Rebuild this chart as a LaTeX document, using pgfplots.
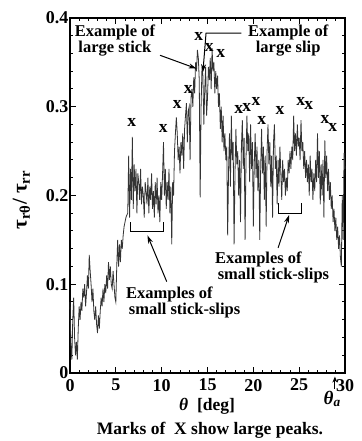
\documentclass[border=0pt]{standalone}
\usepackage{pgfplots}
\pgfplotsset{compat=1.18}
\usepackage{pgfplotstable}
\usepackage{fontspec}
\setmainfont{Liberation Serif}
\usetikzlibrary{arrows.meta}

\pgfplotstableread{
t v
0.0 0.080
0.1 0.030
0.2 0.015
0.3 0.060
0.4 0.085
0.5 0.040
0.6 0.020
0.7 0.035
0.8 0.015
0.9 0.050
1.0 0.075
1.1 0.060
1.2 0.080
1.3 0.070
1.4 0.095
1.5 0.085
1.6 0.100
1.7 0.075
1.8 0.090
1.9 0.110
2.0 0.095
2.1 0.133
2.2 0.115
2.3 0.100
2.4 0.080
2.5 0.095
2.6 0.070
2.7 0.060
2.8 0.075
2.9 0.055
3.0 0.045
3.1 0.065
3.2 0.050
3.3 0.070
3.4 0.085
3.5 0.075
3.6 0.095
3.7 0.080
3.8 0.100
3.9 0.090
4.0 0.110
4.1 0.095
4.2 0.125
4.3 0.105
4.4 0.120
4.5 0.100
4.6 0.095
4.7 0.115
4.8 0.100
4.9 0.085
5.0 0.080
5.1 0.120
5.2 0.150
5.3 0.120
5.4 0.145
5.5 0.125
5.6 0.150
5.7 0.140
5.8 0.155
5.9 0.165
6.0 0.170
6.1 0.175
6.2 0.178
6.3 0.180
6.4 0.245
6.5 0.175
6.6 0.230
6.7 0.195
6.8 0.266
6.9 0.185
7.0 0.235
7.1 0.205
7.2 0.230
7.3 0.180
7.4 0.225
7.5 0.215
7.6 0.195
7.7 0.230
7.8 0.190
7.9 0.210
8.0 0.200
8.1 0.175
8.2 0.215
8.3 0.205
8.4 0.190
8.5 0.220
8.6 0.180
8.7 0.210
8.8 0.195
8.9 0.225
9.0 0.185
9.1 0.205
9.2 0.175
9.3 0.215
9.4 0.190
9.5 0.220
9.6 0.180
9.7 0.200
9.8 0.170
9.9 0.215
10.0 0.195
10.1 0.225
10.2 0.260
10.3 0.200
10.4 0.230
10.5 0.185
10.6 0.215
10.7 0.195
10.8 0.230
10.9 0.180
11.0 0.210
11.1 0.145
11.2 0.215
11.3 0.200
11.4 0.250
11.5 0.270
11.6 0.288
11.7 0.270
11.8 0.240
11.9 0.255
12.0 0.225
12.1 0.260
12.2 0.245
12.3 0.270
12.4 0.230
12.5 0.275
12.6 0.290
12.7 0.304
12.8 0.260
12.9 0.295
13.0 0.300
13.1 0.240
13.2 0.310
13.3 0.320
13.4 0.300
13.5 0.333
13.6 0.315
13.7 0.350
13.8 0.340
13.9 0.364
14.0 0.355
14.1 0.330
14.2 0.198
14.3 0.300
14.4 0.345
14.5 0.335
14.6 0.280
14.7 0.320
14.8 0.345
14.9 0.290
15.0 0.310
15.1 0.345
15.2 0.330
15.3 0.355
15.4 0.320
15.5 0.366
15.6 0.340
15.7 0.350
15.8 0.315
15.9 0.340
16.0 0.320
16.1 0.335
16.2 0.300
16.3 0.315
16.4 0.275
16.5 0.300
16.6 0.260
16.7 0.290
16.8 0.250
16.9 0.270
17.0 0.240
17.1 0.255
17.2 0.155
17.3 0.230
17.4 0.270
17.5 0.210
17.6 0.290
17.7 0.240
17.8 0.260
17.9 0.145
18.0 0.225
18.1 0.275
18.2 0.235
18.3 0.250
18.4 0.200
18.5 0.240
18.6 0.170
18.7 0.255
18.8 0.285
18.9 0.230
19.0 0.265
19.1 0.150
19.2 0.240
19.3 0.290
19.4 0.250
19.5 0.270
19.6 0.215
19.7 0.280
19.8 0.230
19.9 0.260
20.0 0.165
20.1 0.235
20.2 0.270
20.3 0.220
20.4 0.255
20.5 0.205
20.6 0.240
20.7 0.150
20.8 0.230
20.9 0.275
21.0 0.225
21.1 0.255
21.2 0.195
21.3 0.245
21.4 0.165
21.5 0.250
21.6 0.280
21.7 0.235
21.8 0.260
21.9 0.210
22.0 0.245
22.1 0.175
22.2 0.260
22.3 0.280
22.4 0.230
22.5 0.245
22.6 0.190
22.7 0.240
22.8 0.210
22.9 0.255
23.0 0.225
23.1 0.195
23.2 0.240
23.3 0.215
23.4 0.230
23.5 0.200
23.6 0.220
23.7 0.205
23.8 0.240
23.9 0.225
24.0 0.250
24.1 0.230
24.2 0.255
24.3 0.240
24.4 0.290
24.5 0.250
24.6 0.270
24.7 0.245
24.8 0.280
24.9 0.255
25.0 0.265
25.1 0.240
25.2 0.285
25.3 0.250
25.4 0.260
25.5 0.230
25.6 0.250
25.7 0.220
25.8 0.240
25.9 0.215
26.0 0.235
26.1 0.200
26.2 0.245
26.3 0.215
26.4 0.230
26.5 0.195
26.6 0.225
26.7 0.205
26.8 0.240
26.9 0.215
27.0 0.270
27.1 0.220
27.2 0.250
27.3 0.190
27.4 0.235
27.5 0.200
27.6 0.240
27.7 0.175
27.8 0.262
27.9 0.220
28.0 0.245
28.1 0.205
28.2 0.230
28.3 0.195
28.4 0.215
28.5 0.185
28.6 0.200
28.7 0.170
28.8 0.185
28.9 0.160
29.0 0.175
29.1 0.150
29.2 0.165
29.3 0.140
29.4 0.155
29.5 0.130
29.6 0.120
29.7 0.200
29.8 0.150
29.9 0.248
30.0 0.230
}\ratio

\pgfplotstableread{
t v
6.73 0.282
10.18 0.276
11.71 0.303
12.91 0.319
14.04 0.379
15.20 0.367
16.44 0.360
18.40 0.297
19.27 0.299
20.29 0.3055
20.91 0.285
22.91 0.296
25.17 0.3055
26.04 0.301
27.82 0.2857
28.65 0.277
}\peaks

\begin{document}
\fontsize{17.5pt}{19pt}\selectfont
\begin{tikzpicture}[annot/.style={font=\fontsize{16.5pt}{14.5pt}\selectfont\bfseries, inner sep=0pt}]
\begin{axis}[
  name=ax,
  scale only axis,
  width=275pt, height=355pt,
  xmin=0, xmax=30, ymin=0, ymax=0.4,
  clip=false,
  axis line style={line width=1.2pt},
  tick style={line width=1pt, black},
  tick align=inside,
  major tick length=6pt,
  minor tick length=3.5pt,
  xtick={0,5,10,15,20,25,30},
  minor x tick num=4,
  ytick={0,0.1,0.2,0.3,0.4},
  yticklabels={0,0.1,0.2,0.3,0.4},
  minor y tick num=4,
  /pgf/number format/assume math mode=true,
  ticklabel style={font=\fontsize{18pt}{20pt}\selectfont\bfseries},
  yticklabel style={inner xsep=1.5pt},
]
\addplot[black!80, line width=0.8pt, mark=none] table[x=t, y=v] {\ratio};
\addplot[only marks, mark=none, nodes near coords={\textbf{x}},
  nodes near coords align={anchor=center},
  every node near coord/.append style={text=black, inner sep=0pt, font=\fontsize{17.5pt}{19pt}\selectfont\bfseries}]
  table[x=t, y=v] {\peaks};

% annotations
\node[annot, align=center] at (axis cs:4.9,0.375) {Example of\\large stick};
\draw[line width=1pt, -{Stealth[length=8pt,width=5pt]}] (axis cs:9.82,0.358) -- (axis cs:13.8,0.343);
\node[annot, align=center] at (axis cs:23.8,0.375) {Example of\\large slip};
\draw[line width=1pt, -{Stealth[length=8pt,width=5pt]}] (axis cs:18.7,0.383) -- (axis cs:14.84,0.383) -- (axis cs:14.5,0.339);

\draw[line width=1pt] (axis cs:6.6,0.170) -- (axis cs:6.6,0.159) -- (axis cs:10.25,0.159) -- (axis cs:10.25,0.170);
\draw[line width=1pt, -{Stealth[length=8pt,width=5pt]}] (axis cs:10.55,0.103) -- (axis cs:8.45,0.155);
\node[annot, align=left, anchor=west] at (axis cs:6.1,0.080) {Examples of\\\,small stick-slips};

\draw[line width=1pt] (axis cs:22.7,0.191) -- (axis cs:22.7,0.180) -- (axis cs:25.3,0.180) -- (axis cs:25.3,0.191);
\draw[line width=1pt, -{Stealth[length=8pt,width=5pt]}] (axis cs:22.7,0.141) -- (axis cs:23.9,0.178);
\node[annot, align=left, anchor=west] at (axis cs:15.8,0.119) {Examples of\\\,small stick-slips};

% theta_a
\draw[line width=1pt, -{Stealth[length=6pt,width=5pt]}] (axis cs:28.9,-0.018) -- (axis cs:28.9,-0.004);
\node[font=\fontsize{19pt}{21pt}\selectfont\bfseries\itshape, inner sep=0pt] at (axis cs:28.6,-0.029) {θ\textsubscript{a}};

% axis labels
\node[font=\bfseries, inner sep=0pt] at (axis cs:14.95,-0.037) {{\itshape θ}\ \ [deg]};
\node[font=\bfseries, inner sep=0pt] at (axis cs:15.27,-0.064) {Marks of \ X show large peaks.};
\node[font=\fontsize{21pt}{23pt}\selectfont\bfseries, inner sep=0pt, rotate=90] at (axis cs:-5.3,0.195) {τ\textsubscript{rθ}/ τ\textsubscript{rr}};
\end{axis}
\pgfresetboundingbox
\path[use as bounding box] ([shift={(-70pt,-68pt)}]ax.south west) rectangle ([shift={(16pt,18pt)}]ax.north east);
\end{tikzpicture}
\end{document}
